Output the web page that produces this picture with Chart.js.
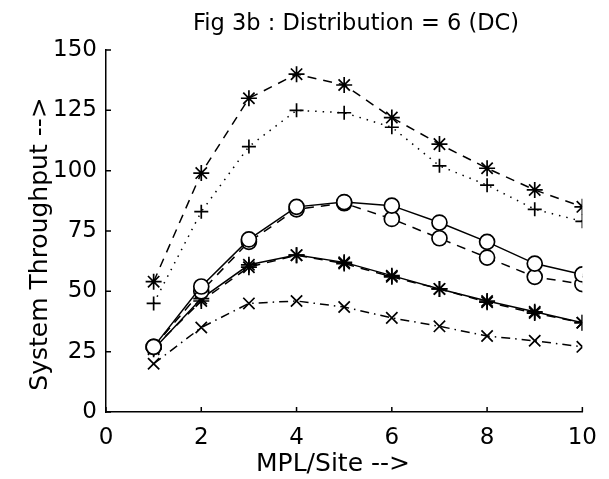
<!DOCTYPE html>
<html>
<head>
<meta charset="utf-8">
<script src="https://cdn.jsdelivr.net/npm/chart.js@4/dist/chart.umd.min.js"></script>
<style>
  html, body { margin: 0; padding: 0; background: #fff; }
  #wrap { width: 609px; height: 479px; }
</style>
</head>
<body>
<div id="wrap"><canvas id="fig"></canvas></div>
<script>
/* ── Data ───────────────────────────────────────────────── */
const mpl = [1, 2, 3, 4, 5, 6, 7, 8, 9, 10];

const starDashedTop  = [54, 99, 130, 140, 135.5, 122, 111, 101, 92, 85];
const plusDotted     = [45, 83, 110, 125, 124, 118, 102, 94, 84, 79];
const circleSolid    = [27, 52, 71.5, 85, 87, 85.5, 78.5, 70.5, 61.5, 57];
const circleDashed   = [27, 50, 70.5, 84, 86.5, 80, 72, 64, 56, 53];
const starSolid      = [26, 47, 61, 65, 62, 56.5, 51, 46, 41.5, 37];
const starDashedLow  = [26.5, 46, 60, 65, 61.5, 56, 51, 45.5, 41, 37];
const crossDashDot   = [20, 35, 45, 46, 43.5, 39, 35.5, 31.5, 29.5, 27];

const xTicks = [0, 2, 4, 6, 8, 10];
const yTicks = [0, 25, 50, 75, 100, 125, 150];

const TITLE  = 'Fig 3b : Distribution = 6 (DC)';
const XTITLE = 'MPL/Site -->';
const YTITLE = 'System Throughput -->';

Chart.defaults.font.family = "'DejaVu Sans', sans-serif";
Chart.defaults.color = '#000';

const pts = vals => vals.map((v, i) => ({ x: mpl[i], y: v }));

function series(vals, style, dash, radius) {
  return {
    data: pts(vals),
    borderColor: '#000',
    borderWidth: 1.5,
    borderDash: dash,
    pointStyle: style,
    pointRadius: radius,
    pointBorderColor: '#000',
    pointBackgroundColor: '#fff',
    pointBorderWidth: 1.7,
    fill: false,
    tension: 0,
  };
}

/* ── Inward ticks + titles ──────────────────────────────── */
const decor = {
  id: 'decor',
  afterDraw(chart) {
    const { ctx, chartArea: a, scales: { x, y } } = chart;
    ctx.save();
    ctx.strokeStyle = '#000';
    ctx.lineWidth = 1.5;
    ctx.beginPath();
    xTicks.forEach(t => {
      const px = x.getPixelForValue(t);
      ctx.moveTo(px, a.bottom);
      ctx.lineTo(px, a.bottom - 5);
    });
    yTicks.forEach(t => {
      const py = y.getPixelForValue(t);
      ctx.moveTo(a.left, py);
      ctx.lineTo(a.left + 5, py);
    });
    ctx.stroke();

    ctx.fillStyle = '#000';
    ctx.textAlign = 'center';
    ctx.textBaseline = 'alphabetic';
    ctx.font = "22.5px 'DejaVu Sans', sans-serif";
    ctx.fillText(TITLE, 356, 30);
    ctx.font = "25px 'DejaVu Sans', sans-serif";
    ctx.fillText(XTITLE, 333, 471);
    ctx.translate(47, 244);
    ctx.rotate(-Math.PI / 2);
    ctx.fillText(YTITLE, 0, 0);
    ctx.restore();
  },
};

new Chart(document.getElementById('fig'), {
  type: 'line',
  data: {
    datasets: [
      series(starDashedTop, 'star', [9, 7], 8),
      series(plusDotted, 'cross', [1.5, 6], 7),
      series(circleSolid, 'circle', [], 7.5),
      series(circleDashed, 'circle', [9, 7], 7.5),
      series(starSolid, 'star', [], 8),
      series(starDashedLow, 'star', [9, 7], 8),
      series(crossDashDot, 'crossRot', [9, 5, 1.5, 5], 8),
    ],
  },
  options: {
    responsive: true,
    maintainAspectRatio: false,
    animation: false,
    layout: { padding: { top: 50, right: 24, left: 0, bottom: 0 } },
    plugins: {
      legend: { display: false },
      tooltip: { enabled: false },
      title: { display: false },
    },
    scales: {
      x: {
        type: 'linear',
        min: 0,
        max: 10,
        afterFit(s) { s.height = 67; },
        afterBuildTicks(s) { s.ticks = xTicks.map(v => ({ value: v })); },
        grid: { display: false, drawTicks: false },
        border: { display: true, color: '#000', width: 1.5 },
        ticks: { padding: 12, font: { size: 23 }, color: '#000' },
      },
      y: {
        min: 0,
        max: 150,
        afterFit(s) { s.width = 106; },
        afterBuildTicks(s) { s.ticks = yTicks.map(v => ({ value: v })); },
        grid: { display: false, drawTicks: false },
        border: { display: true, color: '#000', width: 1.5 },
        ticks: { padding: 9, font: { size: 23 }, color: '#000' },
      },
    },
  },
  plugins: [decor],
});
</script>
</body>
</html>
